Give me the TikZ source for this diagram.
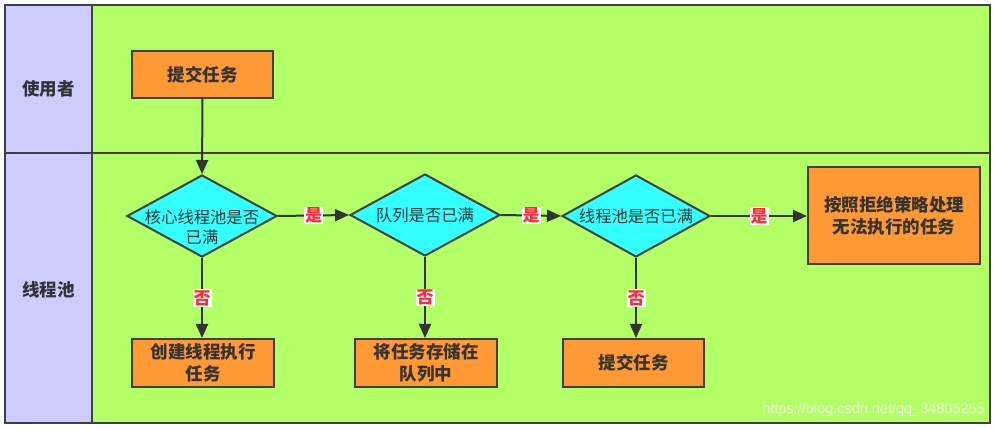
\documentclass[tikz,border=0pt]{standalone}
\usepackage{fontspec}
\setmainfont{Liberation Sans}
\newfontfamily\cjk{Noto Sans CJK SC}
\usetikzlibrary{shapes.geometric,arrows.meta}
\definecolor{lanec}{HTML}{CCCCFF}
\definecolor{poolc}{HTML}{B3FF66}
\definecolor{boxc}{HTML}{FF9933}
\definecolor{diac}{HTML}{33FFFF}
\definecolor{linec}{HTML}{404040}
\definecolor{txtc}{HTML}{333333}
\definecolor{labc}{HTML}{FF2A3A}
\tikzset{
  border/.style={draw=linec,line width=2.2pt},
  boxnode/.style={draw=linec,line width=2pt,fill=boxc,inner sep=0pt,
    text=txtc,align=center,font=\cjk\bfseries\fontsize{17.5}{22}\selectfont},
  dianode/.style={diamond,draw=linec,line width=2pt,fill=diac,inner sep=0pt,
    minimum width=150pt,minimum height=82pt},
  diatext/.style={text=txtc,align=center,inner sep=0pt,
    font=\cjk\fontsize{16.3}{20}\selectfont},
  lanetext/.style={text=txtc,font=\cjk\bfseries\fontsize{17.5}{20}\selectfont},
  flow/.style={draw=txtc,line width=2pt,-{Triangle[length=14pt,width=12pt]}},
  yesno/.style={fill=white,text=labc,inner sep=1pt,
    font=\cjk\bfseries\fontsize{17}{19}\selectfont}
}
\begin{document}
\begin{tikzpicture}[x=1pt,y=-1pt]
\useasboundingbox (0,0) rectangle (996,430);
% lanes
\fill[poolc] (92,5) rectangle (990,423);
\fill[lanec] (5,5) rectangle (92,423);
\draw[border] (5,5) rectangle (990,423);
\draw[border] (92,5) -- (92,423);
\draw[border] (5,153) -- (990,153);
\node[lanetext] (lu) at (48.5,89) {使用者};
\node[lanetext] (lp) at (48.5,290) {线程池};
% nodes
\node[boxnode,minimum width=141pt,minimum height=47pt] (s) at (202.5,74.5) {提交任务};
\node[dianode] (d1) at (202,216) {};
\node[diatext] (t1) at (202,227) {核心线程池是否\\已满};
\node[dianode] (d2) at (425,215) {};
\node[diatext] (t2) at (425,215) {队列是否已满};
\node[dianode,minimum width=148pt] (d3) at (636,216) {};
\node[diatext] (t3) at (636,216) {线程池是否已满};
\node[boxnode,minimum width=172pt,minimum height=97pt] (r) at (894,215.5) {按照拒绝策略处理\\无法执行的任务};
\node[boxnode,minimum width=142pt,minimum height=48pt] (b1) at (203,363) {创建线程执行\\任务};
\node[boxnode,minimum width=142pt,minimum height=48pt] (b2) at (426,363) {将任务存储在\\队列中};
\node[boxnode,minimum width=141pt,minimum height=48pt] (b3) at (633.5,363) {提交任务};
% connectors
\draw[flow] (s.south) -- (d1.north);
\draw[flow] (d1.east) -- node[yesno] (y1) {是} (d2.west);
\draw[flow] (d2.east) -- node[yesno] (y2) {是} (d3.west);
\draw[flow] (d3.east) -- node[yesno] (y3) {是} (d3.east -| r.west);
\draw[flow] (d1.south) -- node[yesno] (n1) {否} (d1.south |- b1.north);
\draw[flow] (d2.south) -- node[yesno] (n2) {否} (d2.south |- b2.north);
\draw[flow] (d3.south) -- node[yesno] (n3) {否} (d3.south |- b3.north);
% watermark
\node[anchor=east,text=white,opacity=0.8,inner sep=0pt,font=\fontsize{14.5}{16}\selectfont] (wm) at (985,410) {https://blog.csdn.net/qq\_34805255};
\end{tikzpicture}
\end{document}
